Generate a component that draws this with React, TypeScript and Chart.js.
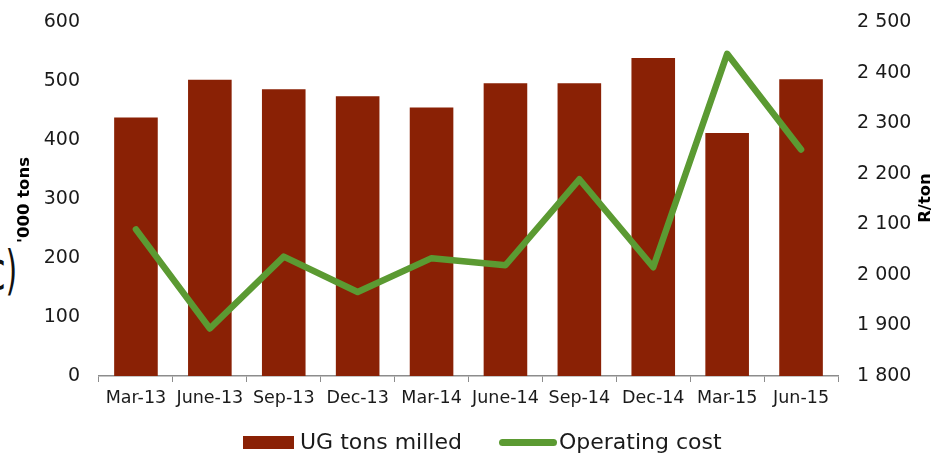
import React, { useEffect, useRef } from "react";
import { Chart, registerables } from "chart.js";

Chart.register(...registerables);

const categories = ["Mar-13", "June-13", "Sep-13", "Dec-13", "Mar-14", "June-14", "Sep-14", "Dec-14", "Mar-15", "Jun-15"];
const ugTonsMilled = [438, 502, 486, 474, 455, 496, 496, 539, 412, 503];
const operatingCost = [2090, 1894, 2036, 1966, 2033, 2019, 2189, 2015, 2437, 2248];
const seriesNames = ["UG tons milled", "Operating cost"];
const leftTitle = "'000 tons";
const rightTitle = "R/ton";

const FONT = "'DejaVu Sans', 'Liberation Sans', sans-serif";
const BAR_COLOR = "#8A2105";
const LINE_COLOR = "#5B9A32";
const TEXT_COLOR = "#1a1a1a";

const fmt = (v: number) => {
  const s = String(Math.round(v));
  return s.replace(/\B(?=(\d{3})+(?!\d))/g, " ");
};

const axisTitles = {
  id: "axisTitles",
  afterDraw(chart: any) {
    const { ctx, chartArea, scales } = chart;
    const mid = (chartArea.top + chartArea.bottom) / 2;
    ctx.save();
    ctx.fillStyle = "#000";
    ctx.font = `bold 16.5px ${FONT}`;
    ctx.textAlign = "center";
    ctx.textBaseline = "middle";
    ctx.translate(scales.y.left + 25, mid + 1);
    ctx.rotate(-Math.PI / 2);
    ctx.fillText(leftTitle, 0, 0);
    ctx.restore();
    ctx.save();
    ctx.fillStyle = "#000";
    ctx.font = `bold 16.5px ${FONT}`;
    ctx.textAlign = "center";
    ctx.textBaseline = "middle";
    ctx.translate(scales.y1.right - 17, mid - 1);
    ctx.rotate(-Math.PI / 2);
    ctx.fillText(rightTitle, 0, 0);
    ctx.restore();
  },
};

const fixVertical = (w: number) => (s: any) => {
  s.width = w;
  s.paddingTop = 0;
  s.paddingBottom = 0;
};

export default function App() {
  const ref = useRef<HTMLCanvasElement>(null);
  useEffect(() => {
    if (!ref.current) return;
    const chart = new Chart(ref.current, {
      type: "bar",
      data: {
        labels: categories,
        datasets: [
          {
            type: "bar",
            label: seriesNames[0],
            data: ugTonsMilled,
            backgroundColor: BAR_COLOR,
            borderWidth: 0,
            yAxisID: "y",
            order: 1,
            categoryPercentage: 0.59,
            barPercentage: 1,
          } as any,
          {
            type: "line",
            label: seriesNames[1],
            data: operatingCost,
            borderColor: LINE_COLOR,
            backgroundColor: LINE_COLOR,
            borderWidth: 6.5,
            borderCapStyle: "round",
            borderJoinStyle: "round",
            pointRadius: 0,
            pointHoverRadius: 0,
            tension: 0,
            yAxisID: "y1",
            order: 0,
          } as any,
        ],
      },
      options: {
        animation: false,
        responsive: false,
        events: [],
        layout: { padding: { top: 22, left: 0, right: 0, bottom: 0 } },
        plugins: {
          tooltip: { enabled: false },
          legend: { display: false },
        },
        scales: {
          x: {
            offset: true,
            grid: {
              offset: true,
              drawOnChartArea: false,
              drawTicks: true,
              tickLength: 6,
              color: "#8c8c8c",
            },
            border: { display: true, color: "#8c8c8c", width: 1.5 },
            ticks: {
              color: TEXT_COLOR,
              font: { family: FONT, size: 17.5 },
              padding: 6,
              maxRotation: 0,
              autoSkip: false,
            },
            afterFit: (s: any) => {
              s.height = 78;
            },
          },
          y: {
            position: "left",
            min: 0,
            max: 600,
            grid: { display: false, drawTicks: false },
            border: { display: false },
            ticks: {
              stepSize: 100,
              color: TEXT_COLOR,
              font: { family: FONT, size: 19 },
              padding: 19,
            },
            afterFit: fixVertical(99),
          },
          y1: {
            position: "right",
            min: 1800,
            max: 2500,
            grid: { display: false, drawTicks: false },
            border: { display: false },
            ticks: {
              stepSize: 100,
              color: TEXT_COLOR,
              font: { family: FONT, size: 19 },
              padding: 19,
              callback: (v: any) => fmt(Number(v)),
            },
            afterFit: fixVertical(105),
          },
        },
      } as any,
      plugins: [axisTitles],
    });
    return () => chart.destroy();
  }, []);

  const legendText: React.CSSProperties = {
    fontFamily: FONT,
    fontSize: 22,
    color: TEXT_COLOR,
    lineHeight: "22px",
    whiteSpace: "nowrap",
  };

  return (
    <div style={{ position: "fixed", left: 0, top: 0, width: 943, height: 454, background: "#fff", overflow: "hidden" }}>
      <span
        style={{
          position: "absolute",
          left: -11,
          top: 245,
          fontFamily: "'DejaVu Sans', sans-serif",
          fontSize: 30,
          lineHeight: 1,
          color: "#111",
          transform: "scaleY(1.75)",
          transformOrigin: "0 0",
          display: "inline-block",
          whiteSpace: "nowrap",
        }}
      >
        c)
      </span>
      <canvas ref={ref} width={943} height={454} style={{ position: "absolute", left: 0, top: 0 }} />
      <div
        style={{
          position: "absolute",
          left: 243,
          top: 431,
          display: "flex",
          alignItems: "center",
          height: 22,
        }}
      >
        <span style={{ display: "inline-block", width: 51, height: 13, background: BAR_COLOR, marginRight: 6 }} />
        <span style={legendText}>{seriesNames[0]}</span>
        <span
          style={{
            display: "inline-block",
            width: 58,
            height: 7,
            borderRadius: 4,
            background: LINE_COLOR,
            marginLeft: 37,
            marginRight: 2,
          }}
        />
        <span style={legendText}>{seriesNames[1]}</span>
      </div>
    </div>
  );
}
